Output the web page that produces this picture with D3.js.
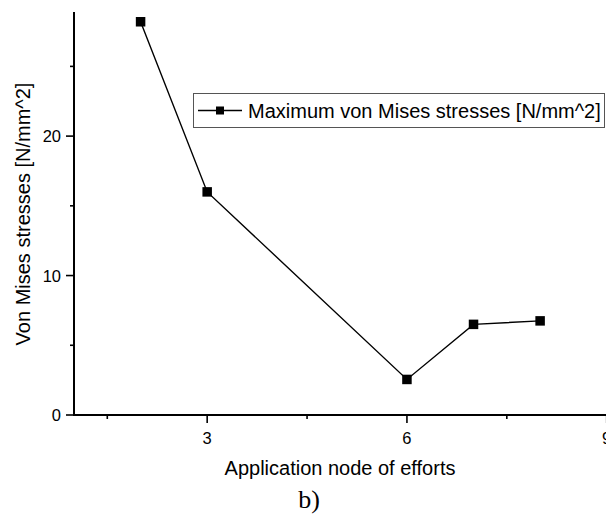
<!DOCTYPE html>
<html><head><meta charset="utf-8">
<script src="https://cdn.jsdelivr.net/npm/d3@7"></script>
<style>body{margin:0;background:#fff;overflow:hidden}svg{display:block}</style>
</head><body>
<svg id="c" width="606" height="514"></svg>
<script>
const nodes = [2, 3, 6, 7, 8];
const stresses = [28.2, 16.0, 2.55, 6.5, 6.75];
const xTicks = [3, 6, 9];
const xMinor = [1.5, 4.5, 7.5];
const yTicks = [0, 10, 20];
const yMinor = [5, 15, 25];
const seriesName = "Maximum von Mises stresses [N/mm^2]";
const xTitle = "Application node of efforts";
const yTitle = "Von Mises stresses [N/mm^2]";
const caption = "b)";

const svg = d3.select("#c");
const L = 74, R = 606.7, T = 12, B = 415;
const x = d3.scaleLinear().domain([1, 9]).range([L, R]);
const y = d3.scaleLinear().domain([0, 28.9]).range([B, T]);
const font = "'Liberation Sans', Arial, sans-serif";

// axes
const gx = svg.append("g").attr("transform", `translate(0,${B})`);
gx.append("line").attr("x1", L - 1).attr("x2", 606).attr("stroke", "#000").attr("stroke-width", 2);
gx.selectAll(".mj").data(xTicks).join("line").attr("x1", d => x(d)).attr("x2", d => x(d))
  .attr("y1", 0).attr("y2", 8).attr("stroke", "#000").attr("stroke-width", 1.6);
gx.selectAll(".mn").data(xMinor).join("line").attr("x1", d => x(d)).attr("x2", d => x(d))
  .attr("y1", 0).attr("y2", 4).attr("stroke", "#000").attr("stroke-width", 1.6);
gx.selectAll("text").data(xTicks).join("text").attr("x", d => x(d)).attr("y", 28.5)
  .attr("text-anchor", "middle").attr("font-family", font).attr("font-size", 16.5).text(d => d);

const gy = svg.append("g").attr("transform", `translate(${L},0)`);
gy.append("line").attr("y1", T).attr("y2", B + 1).attr("stroke", "#000").attr("stroke-width", 2);
gy.selectAll(".mj").data(yTicks).join("line").attr("y1", d => y(d)).attr("y2", d => y(d))
  .attr("x1", 0).attr("x2", -8).attr("stroke", "#000").attr("stroke-width", 1.6);
gy.selectAll(".mn").data(yMinor).join("line").attr("y1", d => y(d)).attr("y2", d => y(d))
  .attr("x1", 0).attr("x2", -4).attr("stroke", "#000").attr("stroke-width", 1.6);
gy.selectAll("text").data(yTicks).join("text").attr("x", -13).attr("y", d => y(d) + 6)
  .attr("text-anchor", "end").attr("font-family", font).attr("font-size", 16.5).text(d => d);

// titles
svg.append("text").attr("x", 340).attr("y", 475).attr("text-anchor", "middle")
  .attr("font-family", font).attr("font-size", 20).text(xTitle);
svg.append("text").attr("transform", `translate(30,214) rotate(-90)`).attr("text-anchor", "middle")
  .attr("font-family", font).attr("font-size", 20).text(yTitle);
svg.append("text").attr("x", 309).attr("y", 508).attr("text-anchor", "middle")
  .attr("font-family", "'Liberation Serif', 'Times New Roman', serif").attr("font-size", 26).text(caption);

// series
const data = nodes.map((n, i) => ({x: n, y: stresses[i]}));
svg.append("path").datum(data).attr("fill", "none").attr("stroke", "#000").attr("stroke-width", 1.4)
  .attr("d", d3.line().x(d => x(d.x)).y(d => y(d.y)));
const s = 9.5;
svg.selectAll(".pt").data(data).join("rect").attr("x", d => x(d.x) - s / 2).attr("y", d => y(d.y) - s / 2)
  .attr("width", s).attr("height", s).attr("fill", "#000");

// legend
const lg = svg.append("g");
lg.append("rect").attr("x", 193.5).attr("y", 93.5).attr("width", 411).attr("height", 34)
  .attr("fill", "#fff").attr("stroke", "#555").attr("stroke-width", 1);
lg.append("line").attr("x1", 198).attr("x2", 242).attr("y1", 110.5).attr("y2", 110.5).attr("stroke", "#000").attr("stroke-width", 1.4);
lg.append("rect").attr("x", 216).attr("y", 106.5).attr("width", 8).attr("height", 8).attr("fill", "#000");
lg.append("text").attr("x", 248).attr("y", 117.5).attr("font-family", font).attr("font-size", 20).text(seriesName);
</script>
</body></html>
